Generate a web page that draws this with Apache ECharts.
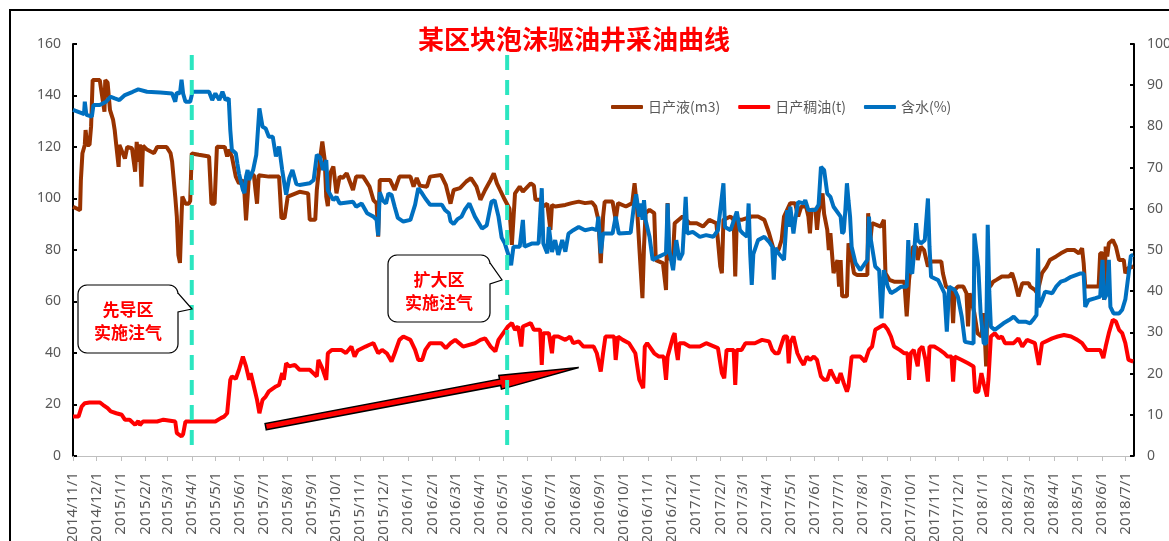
<!DOCTYPE html>
<html>
<head>
<meta charset="utf-8">
<script src="https://cdn.jsdelivr.net/npm/echarts@6/dist/echarts.min.js"></script>
<style>
  html, body { margin: 0; padding: 0; background: #fff; }
  #chart { width: 1169px; height: 541px; }
</style>
</head>
<body>
<div id="chart"></div>
<script>
// ---- text ----
const titleText = '某区块泡沫驱油井采油曲线';
const seriesNames = ['日产液(m3)', '日产稠油(t)', '含水(%)'];
const calloutTexts = ['先导区\n实施注气', '扩大区\n实施注气'];

// ---- axis ticks (first day of each month) ----
const monthTicks = [
  '2014-11-01','2014-12-01','2015-01-01','2015-02-01','2015-03-01','2015-04-01','2015-05-01','2015-06-01',
  '2015-07-01','2015-08-01','2015-09-01','2015-10-01','2015-11-01','2015-12-01','2016-01-01','2016-02-01',
  '2016-03-01','2016-04-01','2016-05-01','2016-06-01','2016-07-01','2016-08-01','2016-09-01','2016-10-01',
  '2016-11-01','2016-12-01','2017-01-01','2017-02-01','2017-03-01','2017-04-01','2017-05-01','2017-06-01',
  '2017-07-01','2017-08-01','2017-09-01','2017-10-01','2017-11-01','2017-12-01','2018-01-01','2018-02-01',
  '2018-03-01','2018-04-01','2018-05-01','2018-06-01','2018-07-01'
];
const dateRange = ['2014-11-01', '2018-07-12'];
const leftTicks = [0, 160, 20];
const rightTicks = [0, 100, 10];

// gas injection start dates (pilot area, expansion area)
const injectionDates = ['2015-04-01', '2016-05-06'];
const injectionSpan = [4.3, 156.5];
// trend arrow on the oil curve, [date, t]
const trendFrom = ['2015-07-04', 11.4];
const trendTo = ['2016-08-05', 34.4];

// ---- 日产液 (m3/d) ----
const liquidRate = [
  ['2014-11-01',96.8],['2014-11-10',95.5],['2014-11-11',107],['2014-11-13',117.6],['2014-11-16',120.8],['2014-11-17',126.6],
  ['2014-11-19',120.8],['2014-11-22',120.8],['2014-11-24',128],['2014-11-26',146],['2014-12-05',146],['2014-12-11',133.7],
  ['2014-12-12',146],['2014-12-15',145],['2014-12-18',134.4],['2014-12-22',130.5],['2014-12-24',126.6],['2014-12-26',120.8],
  ['2014-12-27',120.8],['2014-12-29',112.3],['2014-12-30',120.8],['2015-01-06',115.5],['2015-01-09',120],['2015-01-15',119.5],
  ['2015-01-19',110.4],['2015-01-21',122],['2015-01-23',114.2],['2015-01-25',121],['2015-01-27',104.6],['2015-01-29',120.5],
  ['2015-02-03',119],['2015-02-12',117.6],['2015-02-16',120],['2015-02-28',120],['2015-03-05',117.6],['2015-03-07',114.3],
  ['2015-03-11',100.7],['2015-03-13',93],['2015-03-15',78],['2015-03-17',75],['2015-03-19',93],['2015-03-20',100.7],
  ['2015-03-24',98],['2015-03-28',98],['2015-03-30',99],['2015-04-01',117.5],['2015-04-10',117],['2015-04-23',116.3],
  ['2015-04-24',116],['2015-04-26',98],['2015-04-30',98],['2015-05-03',120.1],['2015-05-13',120],['2015-05-16',116.3],
  ['2015-05-18',119],['2015-05-22',116.3],['2015-05-27',108.5],['2015-05-31',105.9],['2015-06-06',107],['2015-06-09',91.5],
  ['2015-06-11',92],['2015-06-13',109.8],['2015-06-19',109],['2015-06-21',103.3],['2015-06-23',98],['2015-06-25',109],
  ['2015-07-08',108.5],['2015-07-21',108.5],['2015-07-24',92.4],['2015-07-28',92.4],['2015-08-01',100.7],['2015-08-16',102.6],
  ['2015-08-27',102],['2015-08-29',91.7],['2015-09-05',91.7],['2015-09-07',103.3],['2015-09-11',115],['2015-09-14',122.1],
  ['2015-09-17',115],['2015-09-19',100.7],['2015-09-21',97],['2015-09-24',109.8],['2015-09-28',112.4],['2015-10-02',102],
  ['2015-10-06',108.5],['2015-10-10',108],['2015-10-15',109.8],['2015-10-23',103.3],['2015-10-27',108.5],['2015-11-05',108.5],
  ['2015-11-13',104.6],['2015-11-18',99.4],['2015-11-22',98.1],['2015-11-24',85.2],['2015-11-26',107.2],['2015-12-09',107.2],
  ['2015-12-15',103.3],['2015-12-21',108.5],['2016-01-04',108.5],['2016-01-08',104.6],['2016-01-12',108],['2016-01-16',105],
  ['2016-01-25',104.6],['2016-01-29',108.5],['2016-02-12',109.1],['2016-02-18',105.3],['2016-02-24',98],['2016-02-28',103.3],
  ['2016-03-07',104],['2016-03-15',106.6],['2016-03-21',107.9],['2016-03-28',104.6],['2016-04-02',99.5],['2016-04-08',103.3],
  ['2016-04-15',107.2],['2016-04-19',109.8],['2016-04-23',105.9],['2016-04-27',103.3],['2016-05-03',99.5],['2016-05-09',96],
  ['2016-05-12',82],['2016-05-16',102],['2016-05-22',104.6],['2016-05-26',102.7],['2016-06-05',105.9],['2016-06-09',105],
  ['2016-06-11',99.5],['2016-06-17',99.5],['2016-06-21',96.9],['2016-06-26',98],['2016-06-30',87.8],['2016-07-02',97.5],
  ['2016-07-06',96.9],['2016-07-19',97.5],['2016-07-27',98.2],['2016-08-05',98.8],['2016-08-13',98.2],['2016-08-22',98.5],
  ['2016-08-26',96.9],['2016-08-30',91.7],['2016-09-02',74.9],['2016-09-05',93],['2016-09-07',98.8],['2016-09-17',98.8],
  ['2016-09-21',91.7],['2016-09-24',98.2],['2016-10-04',96.9],['2016-10-12',98.2],['2016-10-15',105.9],['2016-10-18',97],
  ['2016-10-21',81.3],['2016-10-25',61.3],['2016-10-27',81.3],['2016-10-29',94.3],['2016-11-03',95.6],['2016-11-09',94.3],
  ['2016-11-11',76.1],['2016-11-20',74.9],['2016-11-24',64.5],['2016-11-26',98.2],['2016-11-28',76.1],['2016-12-03',78.7],
  ['2016-12-05',90.4],['2016-12-15',93],['2016-12-24',90.4],['2017-01-02',90.4],['2017-01-10',89.1],['2017-01-18',91.7],
  ['2017-01-27',90.4],['2017-02-01',73.6],['2017-02-03',71],['2017-02-05',91.7],['2017-02-14',93],['2017-02-18',91.7],
  ['2017-02-20',69.7],['2017-02-22',92],['2017-02-28',91.7],['2017-03-13',93],['2017-03-21',93],['2017-03-29',91.7],
  ['2017-04-04',86.5],['2017-04-10',80],['2017-04-16',80],['2017-04-20',83.9],['2017-04-23',93],['2017-05-01',98.2],
  ['2017-05-07',98.2],['2017-05-11',93],['2017-05-15',96.9],['2017-05-21',96.9],['2017-05-24',93],['2017-05-26',86.5],
  ['2017-05-28',95.6],['2017-06-02',95.6],['2017-06-04',87.8],['2017-06-06',94.3],['2017-06-11',102],['2017-06-13',94],
  ['2017-06-17',87.8],['2017-06-19',80],['2017-06-21',86.5],['2017-06-25',71],['2017-06-30',76.1],['2017-07-02',65.8],
  ['2017-07-04',76.1],['2017-07-06',62],['2017-07-12',62],['2017-07-14',82.6],['2017-07-16',80],['2017-07-21',71],
  ['2017-07-25',70.3],['2017-08-07',70.3],['2017-08-08',94.3],['2017-08-10',81.3],['2017-08-13',90.4],['2017-08-24',89.1],
  ['2017-08-28',91.7],['2017-08-30',71],['2017-09-04',68.4],['2017-09-10',67.7],['2017-09-23',67.7],['2017-09-26',54.2],
  ['2017-09-29',68.4],['2017-10-04',81.3],['2017-10-08',81.3],['2017-10-10',76.1],['2017-10-14',81.3],['2017-10-18',80],
  ['2017-10-23',73.6],['2017-10-27',75.5],['2017-11-09',75.5],['2017-11-11',71],['2017-11-15',65.8],['2017-11-22',64.5],
  ['2017-11-24',51.6],['2017-11-26',64.5],['2017-11-30',65.8],['2017-12-07',65.8],['2017-12-11',63.2],['2017-12-13',50.3],
  ['2017-12-15',63.2],['2017-12-21',55.5],['2017-12-25',47.7],['2017-12-30',46.4],['2018-01-02',55.5],['2018-01-05',34.8],
  ['2018-01-07',68.4],['2018-01-10',65.8],['2018-01-14',67.7],['2018-01-18',68.4],['2018-01-25',69.7],['2018-02-03',69.7],
  ['2018-02-07',71],['2018-02-11',67.1],['2018-02-15',62],['2018-02-20',67.1],['2018-02-28',67.1],['2018-03-02',65.8],
  ['2018-03-08',64.5],['2018-03-11',63.2],['2018-03-17',71],['2018-03-23',73.6],['2018-03-27',76.1],['2018-04-04',77.5],
  ['2018-04-10',78.7],['2018-04-18',80],['2018-04-27',80],['2018-05-03',78.7],['2018-05-07',80.7],['2018-05-09',74.9],
  ['2018-05-11',65.8],['2018-05-28',65.8],['2018-05-30',78.7],['2018-06-02',78.7],['2018-06-04',60.6],['2018-06-06',81.3],
  ['2018-06-08',77.5],['2018-06-10',82.6],['2018-06-15',83.9],['2018-06-19',81.3],['2018-06-23',76.1],['2018-06-29',76.1],
  ['2018-07-01',71],['2018-07-05',73],['2018-07-11',73.6]
];

// ---- 日产稠油 (t/d) ----
const oilRate = [
  ['2014-11-01',15.3],['2014-11-08',15.3],['2014-11-12',19.2],['2014-11-16',20.5],['2014-11-22',20.8],['2014-12-05',20.8],
  ['2014-12-09',19.9],['2014-12-15',18.6],['2014-12-19',17.3],['2014-12-26',16.6],['2015-01-02',16],['2015-01-06',14.1],
  ['2015-01-12',14.1],['2015-01-19',12.1],['2015-01-23',13.6],['2015-01-25',12],['2015-01-29',13.4],['2015-02-16',13.4],
  ['2015-02-24',14.1],['2015-03-11',13.4],['2015-03-13',8.9],['2015-03-19',7.6],['2015-03-21',8.5],['2015-03-24',13.4],
  ['2015-04-06',13.4],['2015-05-01',13.4],['2015-05-08',14.7],['2015-05-12',15.3],['2015-05-16',16.6],['2015-05-18',17],
  ['2015-05-20',29.6],['2015-05-22',30.9],['2015-05-27',30],['2015-05-31',33.5],['2015-06-05',38.6],['2015-06-09',34.8],
  ['2015-06-13',29.6],['2015-06-15',32.2],['2015-06-19',27],['2015-06-23',21.8],['2015-06-26',16.6],['2015-06-30',21.8],
  ['2015-07-04',23.1],['2015-07-08',25.1],['2015-07-17',27],['2015-07-21',27.6],['2015-07-25',32.2],['2015-07-27',29.6],
  ['2015-07-30',36],['2015-08-03',34.8],['2015-08-10',35.4],['2015-08-16',33.5],['2015-08-29',33.5],['2015-09-07',30.9],
  ['2015-09-09',37.3],['2015-09-14',34],['2015-09-19',29.6],['2015-09-21',39.9],['2015-09-26',41.2],['2015-10-08',41.2],
  ['2015-10-14',40],['2015-10-21',42.5],['2015-10-25',38.6],['2015-10-29',41],['2015-11-08',42.5],['2015-11-13',43.2],
  ['2015-11-18',43.8],['2015-11-24',39.9],['2015-11-29',41.2],['2015-12-05',39.9],['2015-12-11',36.7],['2015-12-15',39.9],
  ['2015-12-21',45.1],['2015-12-26',46.4],['2016-01-04',45.1],['2016-01-10',41.2],['2016-01-14',37.3],['2016-01-19',37.3],
  ['2016-01-23',41.2],['2016-01-29',43.8],['2016-02-12',43.8],['2016-02-18',41.9],['2016-02-24',43.8],['2016-03-01',45.1],
  ['2016-03-11',42.5],['2016-03-26',43.8],['2016-04-02',45.1],['2016-04-08',45.7],['2016-04-15',42.5],['2016-04-21',40.6],
  ['2016-04-25',45.1],['2016-05-01',47.7],['2016-05-07',50.3],['2016-05-12',51.6],['2016-05-16',49],['2016-05-20',50.3],
  ['2016-05-24',42.5],['2016-05-26',50.3],['2016-06-05',51.6],['2016-06-09',49],['2016-06-17',49],['2016-06-19',35.4],
  ['2016-06-21',47.7],['2016-06-28',47.7],['2016-07-02',39.9],['2016-07-04',46.4],['2016-07-10',46.4],['2016-07-19',45.1],
  ['2016-07-25',46.4],['2016-07-29',43.8],['2016-08-05',44.5],['2016-08-11',42.5],['2016-08-24',42.5],['2016-08-28',39.9],
  ['2016-09-02',32.8],['2016-09-05',40],['2016-09-08',46.4],['2016-09-19',46.4],['2016-09-21',37.3],['2016-09-24',46.4],
  ['2016-09-30',45.1],['2016-10-08',43.8],['2016-10-16',39.9],['2016-10-21',29.6],['2016-10-26',26.3],['2016-10-28',42.5],
  ['2016-10-31',43.8],['2016-11-09',39.9],['2016-11-15',38.6],['2016-11-21',38.6],['2016-11-24',29.6],['2016-11-26',38.6],
  ['2016-12-03',46.4],['2016-12-05',47.7],['2016-12-07',41.2],['2016-12-09',37.3],['2016-12-11',43.8],['2016-12-17',43.8],
  ['2016-12-24',42.5],['2017-01-06',42.5],['2017-01-14',43.8],['2017-01-29',41.9],['2017-02-03',32.2],['2017-02-06',30.2],
  ['2017-02-09',41.2],['2017-02-18',41.2],['2017-02-20',27.6],['2017-02-22',41.2],['2017-02-28',41.2],['2017-03-05',43.8],
  ['2017-03-17',43.8],['2017-03-26',45.1],['2017-04-04',44.5],['2017-04-08',41.2],['2017-04-12',39.9],['2017-04-16',39.9],
  ['2017-04-23',46.4],['2017-04-27',46.4],['2017-04-29',36],['2017-05-01',44],['2017-05-05',46.4],['2017-05-10',39.9],
  ['2017-05-14',37.3],['2017-05-18',35.4],['2017-05-22',38.6],['2017-05-26',37.3],['2017-05-31',38.6],['2017-06-04',37.3],
  ['2017-06-09',30.9],['2017-06-13',29.6],['2017-06-17',29.6],['2017-06-21',33.5],['2017-06-25',31],['2017-06-30',28.3],
  ['2017-07-04',32.2],['2017-07-08',28.3],['2017-07-12',25],['2017-07-14',27],['2017-07-18',38.6],['2017-07-29',38.6],
  ['2017-08-04',36.7],['2017-08-09',41.2],['2017-08-13',42.5],['2017-08-17',49],['2017-08-24',50.3],['2017-08-28',51],
  ['2017-09-02',49],['2017-09-06',46.4],['2017-09-10',42.5],['2017-09-17',41.2],['2017-09-23',39.9],['2017-09-27',39.9],
  ['2017-09-29',29.6],['2017-10-01',39.9],['2017-10-05',41.2],['2017-10-10',34.8],['2017-10-12',41.2],['2017-10-16',42.5],
  ['2017-10-20',37.3],['2017-10-23',28.9],['2017-10-25',42.5],['2017-10-31',42.5],['2017-11-07',41.2],['2017-11-13',39.9],
  ['2017-11-17',38.6],['2017-11-22',38.6],['2017-11-24',28.9],['2017-11-26',38.6],['2017-12-05',37.3],['2017-12-13',36],
  ['2017-12-20',34.8],['2017-12-22',25],['2017-12-26',25],['2017-12-30',32.2],['2018-01-02',28],['2018-01-06',23.1],
  ['2018-01-08',30],['2018-01-11',46.4],['2018-01-16',47.7],['2018-01-21',45.7],['2018-01-25',46.4],['2018-01-29',43.8],
  ['2018-02-09',43.8],['2018-02-15',45.7],['2018-02-20',42.5],['2018-02-26',45.1],['2018-03-08',43.8],['2018-03-13',35.4],
  ['2018-03-17',43.8],['2018-03-30',45.7],['2018-04-06',46.4],['2018-04-14',47],['2018-04-23',46.4],['2018-05-01',45.1],
  ['2018-05-07',43.8],['2018-05-13',41.2],['2018-05-30',41.2],['2018-06-03',38],['2018-06-06',42.5],['2018-06-10',47.7],
  ['2018-06-15',52.9],['2018-06-19',52.2],['2018-06-23',49],['2018-06-27',47.7],['2018-07-01',43.8],['2018-07-05',37.3],
  ['2018-07-11',36.7]
];

// ---- 含水 (%) ----
const waterCut = [
  ['2014-11-01',84],['2014-11-12',83.2],['2014-11-15',83],['2014-11-16',86],['2014-11-18',82.8],['2014-11-25',82.4],
  ['2014-11-27',85.2],['2014-12-05',85.2],['2014-12-13',86],['2014-12-19',87.2],['2014-12-24',86.8],['2014-12-30',86.4],
  ['2015-01-06',87.6],['2015-01-16',88.4],['2015-01-23',89],['2015-02-03',88.4],['2015-02-20',88.2],['2015-03-07',88],
  ['2015-03-11',86],['2015-03-13',88.2],['2015-03-17',88],['2015-03-19',91.3],['2015-03-21',88],['2015-03-24',86],
  ['2015-03-30',86],['2015-04-02',88.4],['2015-04-23',88.4],['2015-04-27',86.4],['2015-05-01',88],['2015-05-06',86.4],
  ['2015-05-10',88.4],['2015-05-14',86.4],['2015-05-18',86.8],['2015-05-20',79.1],['2015-05-22',74.3],['2015-05-27',73.5],
  ['2015-05-29',71],['2015-05-31',68.6],['2015-06-05',64.6],['2015-06-07',63.8],['2015-06-09',67.8],['2015-06-11',69.4],
  ['2015-06-13',67],['2015-06-18',69.4],['2015-06-22',73.1],['2015-06-26',84.4],['2015-06-30',79.9],['2015-07-04',79.5],
  ['2015-07-08',77.5],['2015-07-13',77.5],['2015-07-17',72.7],['2015-07-21',75.1],['2015-07-25',69.4],['2015-07-30',63.4],
  ['2015-08-03',67.5],['2015-08-07',69.4],['2015-08-12',66],['2015-08-16',65.8],['2015-08-29',66.2],['2015-09-03',67],
  ['2015-09-07',73.1],['2015-09-11',72.5],['2015-09-15',69.4],['2015-09-19',71.8],['2015-09-21',64.5],['2015-09-28',62.1],
  ['2015-10-02',62.9],['2015-10-06',61.3],['2015-10-23',61.7],['2015-10-27',60.5],['2015-11-03',61.3],['2015-11-10',58.9],
  ['2015-11-18',58.1],['2015-11-22',57.3],['2015-11-24',53.5],['2015-11-26',64],['2015-11-30',62],['2015-12-04',61.3],
  ['2015-12-07',63.7],['2015-12-11',63.4],['2015-12-15',60.5],['2015-12-19',57.8],['2015-12-26',56.9],['2016-01-04',57.3],
  ['2016-01-10',61],['2016-01-14',65],['2016-01-19',63.7],['2016-01-23',62.5],['2016-01-29',61],['2016-02-07',61],
  ['2016-02-13',61],['2016-02-17',59.7],['2016-02-22',58.9],['2016-02-24',57],['2016-02-28',56.3],['2016-03-04',57.5],
  ['2016-03-09',58.1],['2016-03-13',59.7],['2016-03-19',61.3],['2016-03-26',58.1],['2016-04-04',55.2],['2016-04-10',56],
  ['2016-04-16',61.7],['2016-04-20',62.1],['2016-04-25',58.1],['2016-04-29',53],['2016-05-03',51.6],['2016-05-07',49.2],
  ['2016-05-11',46.3],['2016-05-14',50.8],['2016-05-22',50.8],['2016-05-26',57.3],['2016-05-28',50.8],['2016-06-07',51.6],
  ['2016-06-15',51.6],['2016-06-19',65],['2016-06-21',51.6],['2016-06-26',49.2],['2016-06-28',55.6],['2016-07-02',49.5],
  ['2016-07-06',52.4],['2016-07-10',48.8],['2016-07-15',52.4],['2016-07-19',49.6],['2016-07-23',54],['2016-07-29',54.8],
  ['2016-08-05',55.6],['2016-08-13',54.8],['2016-08-22',55.2],['2016-08-28',54.8],['2016-08-30',58.1],['2016-09-02',49.2],
  ['2016-09-05',54],['2016-09-17',54],['2016-09-21',58.1],['2016-09-25',54],['2016-10-10',54.2],['2016-10-14',60.5],
  ['2016-10-17',63.5],['2016-10-21',58.1],['2016-10-23',61.3],['2016-10-25',57.3],['2016-10-27',62.1],['2016-10-29',57.3],
  ['2016-11-03',53.2],['2016-11-07',47.6],['2016-11-15',48.4],['2016-11-24',49.2],['2016-11-26',61.3],['2016-11-28',50],
  ['2016-12-03',45.1],['2016-12-07',52.4],['2016-12-11',47.6],['2016-12-15',49.2],['2016-12-19',62.9],['2016-12-21',54],
  ['2016-12-28',54.4],['2017-01-06',53.2],['2017-01-14',53.6],['2017-01-23',53.2],['2017-01-29',54.8],['2017-02-05',66.2],
  ['2017-02-07',55.6],['2017-02-14',54.8],['2017-02-22',59.3],['2017-02-26',54.8],['2017-03-02',54],['2017-03-07',53.2],
  ['2017-03-09',61.3],['2017-03-11',49.2],['2017-03-13',41.5],['2017-03-15',49],['2017-03-21',52.4],['2017-03-29',53.2],
  ['2017-04-04',52],['2017-04-08',50.8],['2017-04-10',42.8],['2017-04-12',50.5],['2017-04-16',49.2],['2017-04-23',47.6],
  ['2017-04-27',59.7],['2017-04-29',55.6],['2017-05-01',60.5],['2017-05-05',54],['2017-05-07',57],['2017-05-11',61.7],
  ['2017-05-18',61.3],['2017-05-20',62.1],['2017-05-24',59.7],['2017-06-02',59.7],['2017-06-06',61],['2017-06-09',70.2],
  ['2017-06-13',69.4],['2017-06-17',63.7],['2017-06-21',62.9],['2017-06-25',60.5],['2017-07-04',58.1],['2017-07-06',54],
  ['2017-07-08',54.5],['2017-07-10',59.7],['2017-07-12',66.2],['2017-07-14',62],['2017-07-16',58.1],['2017-07-18',50.8],
  ['2017-07-23',46.8],['2017-07-29',45.1],['2017-08-07',47.6],['2017-08-09',58.1],['2017-08-11',53],['2017-08-17',46],
  ['2017-08-22',45.1],['2017-08-25',33.4],['2017-08-28',45.1],['2017-09-02',41.1],['2017-09-06',39.5],['2017-09-13',40.3],
  ['2017-09-19',41.1],['2017-09-26',41.1],['2017-09-28',52.4],['2017-09-30',45],['2017-10-03',44.3],['2017-10-06',50.8],
  ['2017-10-08',56.5],['2017-10-10',52.4],['2017-10-14',51.6],['2017-10-19',52.4],['2017-10-23',62.5],['2017-10-25',50.8],
  ['2017-10-27',43.5],['2017-11-05',42.7],['2017-11-09',41.1],['2017-11-13',39.5],['2017-11-16',30.2],['2017-11-19',41.1],
  ['2017-11-26',40.3],['2017-11-30',38.7],['2017-12-05',33.8],['2017-12-09',27.7],['2017-12-20',27.3],['2017-12-21',54],
  ['2017-12-23',54],['2017-12-26',46],['2017-12-29',34.6],['2018-01-02',27.3],['2018-01-05',27.3],['2018-01-07',56.1],
  ['2018-01-09',40],['2018-01-11',31.4],['2018-01-16',30.6],['2018-01-27',32.2],['2018-02-03',33],['2018-02-09',33.8],
  ['2018-02-15',32.6],['2018-02-24',32.6],['2018-03-02',32.2],['2018-03-07',33.4],['2018-03-10',34.2],['2018-03-12',50.4],
  ['2018-03-13',36.2],['2018-03-17',37.8],['2018-03-21',39.9],['2018-03-30',39.5],['2018-04-04',41.1],['2018-04-10',42.3],
  ['2018-04-16',42.7],['2018-04-23',43.5],['2018-05-05',44.3],['2018-05-09',44.3],['2018-05-11',36.2],['2018-05-15',37.8],
  ['2018-05-24',38.3],['2018-05-30',38.7],['2018-06-02',47.6],['2018-06-04',38],['2018-06-08',39.5],['2018-06-10',47.6],
  ['2018-06-12',36.2],['2018-06-16',34.6],['2018-06-23',34.6],['2018-06-27',35.5],['2018-07-01',38],['2018-07-05',44],
  ['2018-07-08',48.6],['2018-07-11',48.8]
];

// ---- helpers ----
function toTime(s) {
  const [y, m, d] = s.split('-').map(Number);
  return new Date(y, m - 1, d).getTime();
}
function fmtDate(v) {
  const d = new Date(v);
  return d.getFullYear() + '/' + (d.getMonth() + 1) + '/' + d.getDate();
}
const asSeries = arr => arr.map(([d, v]) => [toTime(d), v]);

const colors = { liquid: '#993300', oil: '#FF0000', water: '#0070C0', marker: '#2BE6C0' };
const labelGray = '#595959';
const tickTimes = monthTicks.map(toTime);

const chart = echarts.init(document.getElementById('chart'), null, { renderer: 'canvas' });

const series = [
  {
    name: seriesNames[0], type: 'line', yAxisIndex: 0, data: asSeries(liquidRate),
    symbol: 'none', showSymbol: false, z: 2,
    lineStyle: { color: colors.liquid, width: 4 }, itemStyle: { color: colors.liquid }
  },
  {
    name: seriesNames[1], type: 'line', yAxisIndex: 0, data: asSeries(oilRate),
    symbol: 'none', showSymbol: false, z: 3,
    lineStyle: { color: colors.oil, width: 4 }, itemStyle: { color: colors.oil }
  },
  {
    name: seriesNames[2], type: 'line', yAxisIndex: 1, data: asSeries(waterCut),
    symbol: 'none', showSymbol: false, z: 4,
    lineStyle: { color: colors.water, width: 4 }, itemStyle: { color: colors.water }
  }
];
injectionDates.forEach(d => {
  series.push({
    type: 'line', yAxisIndex: 0, silent: true, symbol: 'none', z: 10,
    data: injectionSpan.map(v => [toTime(d), v]),
    lineStyle: { color: colors.marker, width: 4, type: [15, 10] }
  });
});

chart.setOption({
  animation: false,
  backgroundColor: '#fff',
  textStyle: { fontFamily: '"Noto Sans", "Noto Sans CJK SC", sans-serif' },
  title: {
    text: titleText, left: 413, top: 21,
    textStyle: { color: '#FF0000', fontSize: 26, fontWeight: 'bold', fontFamily: '"Noto Sans CJK SC", sans-serif' }
  },
  legend: {
    data: seriesNames, left: 606, top: 95, icon: 'roundRect',
    itemWidth: 32, itemHeight: 4, itemGap: 18,
    textStyle: { color: labelGray, fontSize: 14, fontFamily: '"Noto Sans CJK SC", sans-serif' }
  },
  // long rotated date labels run past the bottom edge, so keep the plot box fixed
  grid: { left: 73, right: 35, top: 44, bottom: 85, containLabel: false, outerBoundsMode: 'none' },
  // date axis: values are timestamps, ticks on the first day of each month
  xAxis: {
    type: 'value',
    min: toTime(dateRange[0]), max: toTime(dateRange[1]),
    axisLine: { show: true, lineStyle: { color: '#BFBFBF', width: 1 } },
    axisTick: { show: true, customValues: tickTimes, length: 5, lineStyle: { color: '#BFBFBF' } },
    axisLabel: {
      customValues: tickTimes, rotate: 90, margin: 16, color: labelGray, fontSize: 15,
      formatter: v => fmtDate(v)
    },
    splitLine: { show: false }
  },
  yAxis: [
    {
      type: 'value', min: leftTicks[0], max: leftTicks[1], interval: leftTicks[2], position: 'left',
      axisLine: { show: true, lineStyle: { color: '#000', width: 2 } },
      axisTick: { show: true, inside: true, length: 4, lineStyle: { color: '#000', width: 2 } },
      axisLabel: { color: labelGray, fontSize: 14, margin: 12 },
      splitLine: { show: false }
    },
    {
      type: 'value', min: rightTicks[0], max: rightTicks[1], interval: rightTicks[2], position: 'right',
      axisLine: { show: true, lineStyle: { color: '#000', width: 2 } },
      axisTick: { show: true, inside: true, length: 4, lineStyle: { color: '#000', width: 2 } },
      axisLabel: { color: labelGray, fontSize: 14, margin: 13 },
      splitLine: { show: false }
    }
  ],
  series: series
});

// ---- annotations: frame, callouts, trend arrow ----
function calloutPoints(x0, y0, x1, y1, r, wedge) {
  const pts = [];
  const arc = (cx, cy, a0, a1) => {
    for (let i = 0; i <= 6; i++) {
      const a = a0 + (a1 - a0) * i / 6;
      pts.push([cx + r * Math.cos(a), cy + r * Math.sin(a)]);
    }
  };
  arc(x0 + r, y0 + r, Math.PI, 1.5 * Math.PI);
  arc(x1 - r, y0 + r, 1.5 * Math.PI, 2 * Math.PI);
  pts.push([x1, wedge[0]], wedge[1], [x1, wedge[2]]);
  arc(x1 - r, y1 - r, 0, 0.5 * Math.PI);
  arc(x0 + r, y1 - r, 0.5 * Math.PI, Math.PI);
  return pts;
}

const calloutBoxes = [
  { box: [78, 285, 178, 353], wedge: [293, [192, 309], 312], text: [128, 321] },
  { box: [388, 255, 490, 322], wedge: [263, [502, 280], 284], text: [439, 291] }
];

const graphics = [
  {
    type: 'rect', silent: true, z: 1,
    shape: { x: 10, y: 10, width: 1300, height: 700 },
    style: { fill: 'none', stroke: '#000', lineWidth: 2 }
  }
];

calloutBoxes.forEach((c, i) => {
  graphics.push({
    type: 'polygon', silent: true, z: 20,
    shape: { points: calloutPoints(c.box[0], c.box[1], c.box[2], c.box[3], 9, c.wedge) },
    style: { fill: '#fff', stroke: '#000', lineWidth: 1.2 }
  });
  graphics.push({
    type: 'text', silent: true, z: 21, x: c.text[0], y: c.text[1],
    style: {
      text: calloutTexts[i], fill: '#FF0000', align: 'center', verticalAlign: 'middle',
      font: 'bold 17px "Noto Sans CJK SC", sans-serif', lineHeight: 23
    }
  });
});

// arrow along the rising oil trend, placed in data coordinates
const a0 = chart.convertToPixel({ xAxisIndex: 0, yAxisIndex: 0 }, [toTime(trendFrom[0]), trendFrom[1]]);
const a1 = chart.convertToPixel({ xAxisIndex: 0, yAxisIndex: 0 }, [toTime(trendTo[0]), trendTo[1]]);
const dx = a1[0] - a0[0], dy = a1[1] - a0[1];
const len = Math.hypot(dx, dy);
const ux = dx / len, uy = dy / len, nx = -uy, ny = ux;
const headLen = 80, shaftHalf = 3.2, headHalf = 7;
const bx = a1[0] - ux * headLen, by = a1[1] - uy * headLen;
const pt = (x, y, k) => [x + nx * k, y + ny * k];
graphics.push({
  type: 'polygon', silent: true, z: 5,
  shape: {
    points: [
      pt(a0[0], a0[1], shaftHalf), pt(bx, by, shaftHalf), pt(bx, by, headHalf),
      [a1[0], a1[1]],
      pt(bx, by, -headHalf), pt(bx, by, -shaftHalf), pt(a0[0], a0[1], -shaftHalf)
    ]
  },
  style: { fill: '#FF0000', stroke: '#000', lineWidth: 1.5, lineJoin: 'miter' }
});

chart.setOption({ graphic: graphics });
</script>
</body>
</html>
